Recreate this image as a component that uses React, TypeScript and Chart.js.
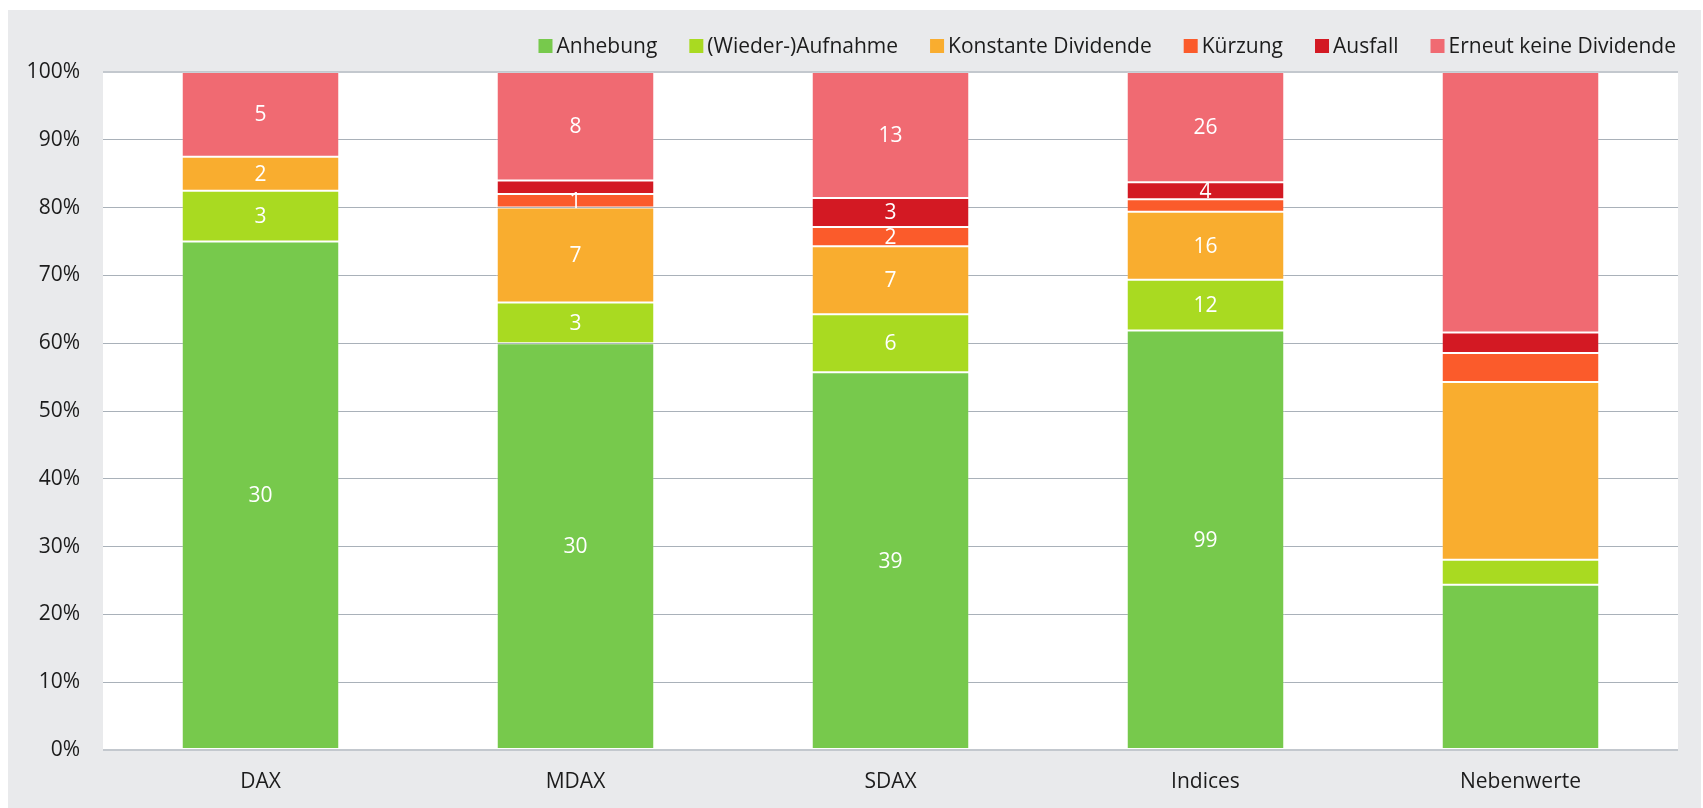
import React, { useEffect, useRef } from "react";
import { Chart, registerables } from "chart.js";

Chart.register(...registerables);

const categories = ["DAX", "MDAX", "SDAX", "Indices", "Nebenwerte"];
const seriesNames = [
  "Anhebung",
  "(Wieder-)Aufnahme",
  "Konstante Dividende",
  "Kürzung",
  "Ausfall",
  "Erneut keine Dividende",
];
const anhebung = [30, 30, 39, 99, 40];
const wiederaufnahme = [3, 3, 6, 12, 6];
const konstant = [2, 7, 7, 16, 43];
const kuerzung = [0, 1, 2, 3, 7];
const ausfall = [0, 1, 3, 4, 5];
const keineDividende = [5, 8, 13, 26, 63];
const seriesColors = ["#77c94c", "#a9da21", "#f9ad2f", "#fb5b2b", "#d31923", "#f06a72"];
const yTickValues = [0, 10, 20, 30, 40, 50, 60, 70, 80, 90, 100];
const labelledCategories = [true, true, true, true, false];
const hiddenLabels = [
  ["MDAX", "Ausfall"],
  ["Indices", "Kürzung"],
];

const FONT = "'Open Sans', 'Noto Sans', sans-serif";
const FONT_SIZE = 21;
const TEXT_COLOR = "#1c1c1c";

export default function App() {
  const ref = useRef<HTMLCanvasElement | null>(null);

  useEffect(() => {
    const canvas = ref.current;
    if (!canvas) return;
    const allSeries = [anhebung, wiederaufnahme, konstant, kuerzung, ausfall, keineDividende];
    const totals = categories.map((_, i) => allSeries.reduce((s, arr) => s + arr[i], 0));

    const bgPlugin = {
      id: "plotBg",
      beforeDraw(chart: any) {
        const { ctx, chartArea } = chart;
        ctx.save();
        ctx.fillStyle = "#ffffff";
        ctx.fillRect(chartArea.left, chartArea.top, chartArea.right - chartArea.left, chartArea.bottom - chartArea.top);
        ctx.restore();
      },
    };

    const valueLabelPlugin = {
      id: "valueLabels",
      afterDatasetsDraw(chart: any) {
        const ctx = chart.ctx;
        ctx.save();
        ctx.font = `${FONT_SIZE}px ${FONT}`;
        ctx.fillStyle = "#ffffff";
        ctx.textAlign = "center";
        ctx.textBaseline = "middle";
        chart.data.datasets.forEach((ds: any, di: number) => {
          const meta = chart.getDatasetMeta(di);
          meta.data.forEach((el: any, ci: number) => {
            const count = allSeries[di][ci];
            if (!count || !labelledCategories[ci]) return;
            const hidden = hiddenLabels.some((h) => h[0] === categories[ci] && h[1] === seriesNames[di]);
            if (hidden) return;
            ctx.fillText(String(count), el.x, (el.y + el.base) / 2 + 1);
          });
        });
        ctx.restore();
      },
    };

    const legendPlugin = {
      id: "customLegend",
      afterDraw(chart: any) {
        const ctx = chart.ctx;
        const box = 14;
        const boxGap = 4;
        const itemGap = 32;
        const yCenter = 36;
        ctx.save();
        ctx.font = `${FONT_SIZE}px ${FONT}`;
        ctx.textBaseline = "middle";
        ctx.textAlign = "left";
        let x = chart.chartArea.right - 2;
        const items = seriesNames.map((n, i) => ({ n, c: seriesColors[i], w: ctx.measureText(n).width }));
        for (let i = items.length - 1; i >= 0; i--) {
          const it = items[i];
          const textX = x - it.w;
          const boxX = textX - boxGap - box;
          ctx.fillStyle = it.c;
          ctx.fillRect(boxX, yCenter - box / 2, box, box);
          ctx.fillStyle = TEXT_COLOR;
          ctx.fillText(it.n, textX, yCenter + 1);
          x = boxX - itemGap;
        }
        ctx.restore();
      },
    };

    const chart = new Chart(canvas, {
      type: "bar",
      data: {
        labels: categories,
        datasets: allSeries.map((arr, di) => ({
          label: seriesNames[di],
          data: arr.map((v, ci) => (v / totals[ci]) * 100),
          backgroundColor: seriesColors[di],
          borderColor: "rgba(255,255,255,0.16)",
          borderWidth: 1,
          borderSkipped: false,
          barPercentage: 0.5,
          categoryPercentage: 1,
        })),
      },
      options: {
        responsive: false,
        animation: false,
        layout: { padding: { left: 0, right: 23, top: 62, bottom: 0 } },
        plugins: { legend: { display: false }, tooltip: { enabled: false } },
        scales: {
          x: {
            stacked: true,
            grid: { display: false, drawTicks: false },
            border: { display: false },
            ticks: { color: TEXT_COLOR, font: { family: FONT, size: FONT_SIZE }, padding: 19 },
            afterFit(axis: any) {
              axis.height = 58;
            },
          },
          y: {
            stacked: true,
            min: 0,
            max: 100,
            border: { display: false },
            grid: {
              drawTicks: false,
              color: (c: any) => (c.tick && (c.tick.value === 0 || c.tick.value === 100) ? "#c3c8ce" : "#a9b1b9"),
              lineWidth: (c: any) => (c.tick && (c.tick.value === 0 || c.tick.value === 100) ? 2 : 1),
            },
            afterBuildTicks(axis: any) {
              axis.ticks = yTickValues.map((v) => ({ value: v }));
            },
            ticks: {
              color: TEXT_COLOR,
              font: { family: FONT, size: FONT_SIZE },
              padding: 23,
              callback: (v: any) => `${v}%`,
            },
            afterFit(axis: any) {
              axis.width = 95;
            },
          },
        },
      },
      plugins: [bgPlugin, valueLabelPlugin, legendPlugin],
    });
    return () => chart.destroy();
  }, []);

  return (
    <div
      style={{
        position: "fixed",
        left: 8,
        top: 10,
        width: 1693,
        height: 798,
        background: "#e9eaec",
      }}
    >
      <canvas ref={ref} width={1693} height={798} style={{ display: "block", width: 1693, height: 798 }} />
    </div>
  );
}
